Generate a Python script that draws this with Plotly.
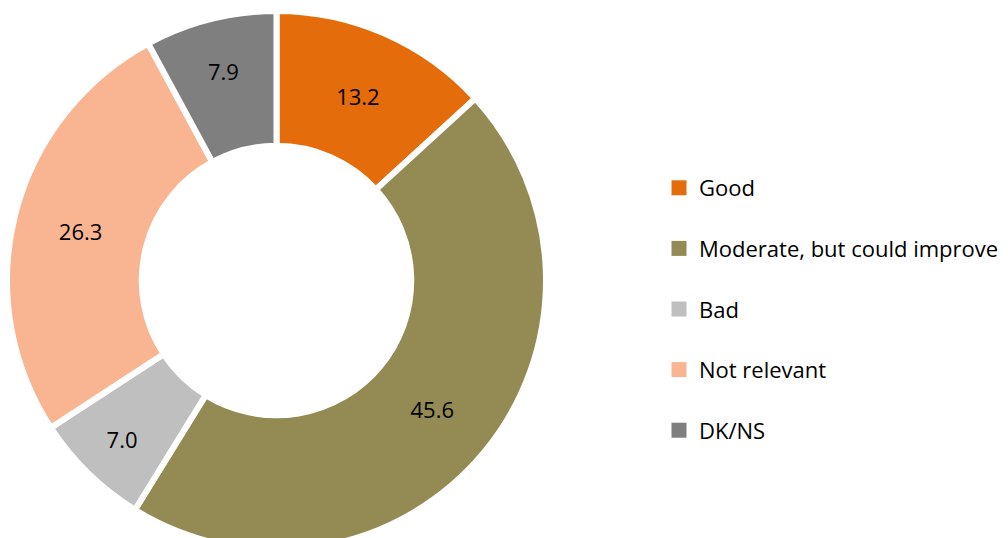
import plotly.graph_objects as go

# Survey answers, drawn clockwise from 12 o'clock
labels = ["Good", "Moderate, but could improve", "Bad", "Not relevant", "DK/NS"]
values = [13.2, 45.6, 7.0, 26.3, 7.9]
colors = ["#E46C0A", "#948A54", "#BFBFBF", "#F9B591", "#7F7F7F"]

W, H = 1008, 550

fig = go.Figure()

fig.add_trace(go.Pie(
    labels=labels,
    values=values,
    text=[f"{v:.1f}" for v in values],
    textinfo="text",
    textposition="inside",
    insidetextorientation="horizontal",
    textfont=dict(family="Open Sans", size=22, color="#000000"),
    marker=dict(colors=colors, line=dict(color="#FFFFFF", width=6)),
    hole=0.50,
    sort=False,
    direction="clockwise",
    rotation=0,
    showlegend=False,
    hoverinfo="label+value",
    domain=dict(x=[7 / W, 546 / W], y=[0, 1 - 11 / H]),
))

# Legend entries: one square marker per category
for lab, col in zip(labels, colors):
    fig.add_trace(go.Scatter(
        x=[None], y=[None],
        mode="markers",
        name=lab,
        legendgroup=lab,
        marker=dict(symbol="square", size=15, color=col),
        hoverinfo="skip",
    ))

fig.update_layout(
    width=W,
    height=H,
    margin=dict(l=0, r=0, t=0, b=0),
    paper_bgcolor="#FFFFFF",
    plot_bgcolor="#FFFFFF",
    xaxis=dict(visible=False),
    yaxis=dict(visible=False),
    legend=dict(
        x=659 / W,
        xanchor="left",
        y=1 - 309 / H,
        yanchor="middle",
        font=dict(family="Open Sans", size=22, color="#000000"),
        tracegroupgap=29,
        itemsizing="trace",
        bgcolor="rgba(0,0,0,0)",
    ),
)

fig.write_html("out.html", post_script="document.body.style.margin='0';document.body.style.overflow='hidden';")
